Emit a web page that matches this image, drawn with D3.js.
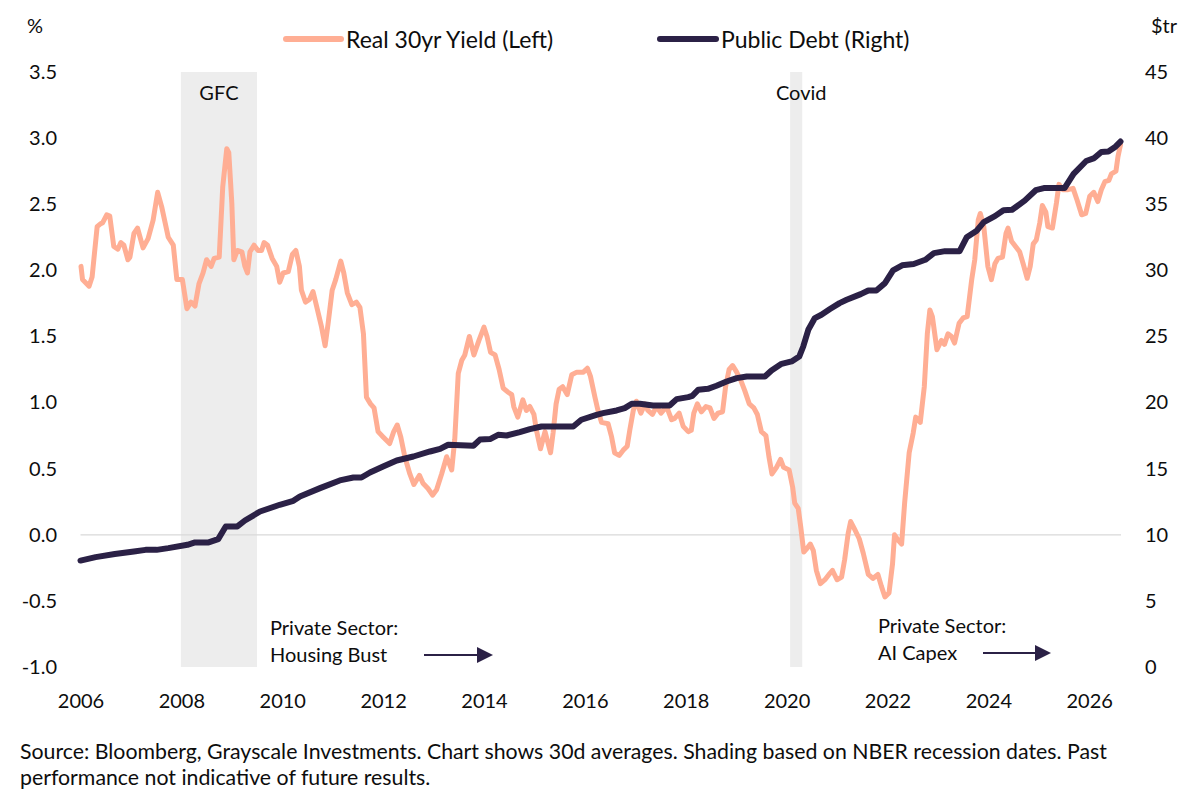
<!DOCTYPE html>
<html>
<head>
<meta charset="utf-8">
<script src="https://cdn.jsdelivr.net/npm/d3@7"></script>
<style>
  html, body { margin: 0; padding: 0; background: #fff; }
  svg { display: block; font-family: Lato, "Open Sans", sans-serif; }
</style>
</head>
<body>
<svg id="chart" width="1200" height="801"></svg>
<script>
// ---------- DATA ----------
// Real 30yr yield (%), [decimal year, value]
const realYield = [
[2006.01,2.03],[2006.04,1.93],[2006.17,1.88],[2006.23,1.95],[2006.33,2.33],[2006.39,2.35],[2006.44,2.36],[2006.52,2.42],[2006.58,2.41],[2006.66,2.18],
[2006.74,2.16],[2006.80,2.21],[2006.86,2.19],[2006.94,2.08],[2006.98,2.10],[2007.06,2.28],[2007.13,2.32],[2007.24,2.17],[2007.34,2.24],[2007.44,2.38],
[2007.53,2.59],[2007.61,2.48],[2007.74,2.25],[2007.84,2.19],[2007.91,1.93],[2008.02,1.93],[2008.11,1.71],[2008.19,1.76],[2008.27,1.73],[2008.35,1.90],
[2008.43,1.98],[2008.50,2.08],[2008.59,2.03],[2008.65,2.09],[2008.75,2.10],[2008.82,2.63],[2008.90,2.92],[2008.94,2.89],[2009.00,2.51],[2009.04,2.08],
[2009.11,2.15],[2009.20,2.14],[2009.26,2.03],[2009.31,1.98],[2009.36,2.14],[2009.44,2.19],[2009.52,2.15],[2009.59,2.15],[2009.64,2.21],[2009.71,2.19],
[2009.80,2.09],[2009.89,2.03],[2009.95,1.91],[2010.02,1.98],[2010.12,1.99],[2010.20,2.12],[2010.27,2.15],[2010.34,2.03],[2010.38,1.85],[2010.46,1.76],
[2010.54,1.78],[2010.61,1.84],[2010.68,1.73],[2010.78,1.57],[2010.85,1.43],[2010.91,1.60],[2010.99,1.85],[2011.06,1.93],[2011.16,2.07],[2011.22,1.98],
[2011.29,1.83],[2011.38,1.74],[2011.47,1.76],[2011.54,1.72],[2011.61,1.52],[2011.67,1.04],[2011.75,0.99],[2011.82,0.96],[2011.90,0.78],[2012.00,0.74],
[2012.13,0.69],[2012.21,0.78],[2012.28,0.83],[2012.35,0.74],[2012.43,0.59],[2012.53,0.46],[2012.61,0.38],[2012.72,0.45],[2012.79,0.39],[2012.89,0.35],
[2012.98,0.30],[2013.06,0.34],[2013.16,0.46],[2013.26,0.59],[2013.36,0.49],[2013.42,0.72],[2013.49,1.22],[2013.56,1.32],[2013.62,1.36],[2013.71,1.50],
[2013.80,1.36],[2013.90,1.47],[2014.00,1.57],[2014.06,1.50],[2014.13,1.38],[2014.22,1.36],[2014.30,1.25],[2014.38,1.11],[2014.47,1.08],[2014.55,1.06],
[2014.59,0.97],[2014.67,0.89],[2014.77,1.02],[2014.84,0.94],[2014.91,0.97],[2014.99,0.91],[2015.04,0.79],[2015.12,0.65],[2015.21,0.78],[2015.32,0.62],
[2015.37,0.77],[2015.43,0.99],[2015.49,1.10],[2015.56,1.12],[2015.65,1.06],[2015.74,1.21],[2015.84,1.23],[2015.97,1.23],[2016.05,1.26],[2016.11,1.20],
[2016.20,1.04],[2016.26,0.94],[2016.33,0.85],[2016.46,0.84],[2016.53,0.74],[2016.59,0.62],[2016.68,0.60],[2016.76,0.64],[2016.84,0.67],[2016.89,0.79],
[2016.96,0.94],[2017.02,1.01],[2017.11,0.92],[2017.19,0.99],[2017.25,0.94],[2017.34,0.91],[2017.42,0.97],[2017.51,0.92],[2017.62,0.97],[2017.72,0.87],
[2017.78,0.88],[2017.87,0.92],[2017.95,0.82],[2018.05,0.78],[2018.11,0.79],[2018.16,0.92],[2018.23,0.99],[2018.31,0.93],[2018.40,0.97],[2018.48,0.96],
[2018.56,0.88],[2018.64,0.92],[2018.73,0.93],[2018.79,1.12],[2018.86,1.25],[2018.93,1.28],[2019.01,1.23],[2019.09,1.17],[2019.17,1.09],[2019.26,0.99],
[2019.35,0.96],[2019.42,0.91],[2019.50,0.78],[2019.59,0.75],[2019.65,0.59],[2019.71,0.46],[2019.80,0.51],[2019.88,0.57],[2019.94,0.51],[2020.05,0.49],
[2020.12,0.36],[2020.16,0.24],[2020.23,0.20],[2020.28,0.06],[2020.34,-0.13],[2020.41,-0.10],[2020.47,-0.07],[2020.53,-0.12],[2020.59,-0.27],[2020.67,-0.37],
[2020.76,-0.34],[2020.84,-0.30],[2020.91,-0.27],[2021.00,-0.34],[2021.09,-0.32],[2021.15,-0.19],[2021.22,0.01],[2021.27,0.10],[2021.35,0.04],[2021.44,-0.03],
[2021.52,-0.14],[2021.62,-0.30],[2021.71,-0.33],[2021.81,-0.30],[2021.88,-0.39],[2021.95,-0.47],[2022.03,-0.44],[2022.10,-0.22],[2022.14,0.00],[2022.21,-0.04],
[2022.28,-0.07],[2022.34,0.24],[2022.43,0.62],[2022.51,0.77],[2022.56,0.89],[2022.65,0.85],[2022.73,1.12],[2022.79,1.52],[2022.84,1.70],[2022.89,1.65],
[2022.98,1.40],[2023.07,1.47],[2023.13,1.44],[2023.20,1.52],[2023.27,1.50],[2023.33,1.45],[2023.42,1.60],[2023.50,1.64],[2023.58,1.65],[2023.67,1.93],
[2023.73,2.08],[2023.80,2.38],[2023.84,2.43],[2023.91,2.33],[2023.99,2.03],[2024.06,1.93],[2024.13,2.05],[2024.19,2.09],[2024.28,2.10],[2024.35,2.28],
[2024.39,2.32],[2024.46,2.22],[2024.54,2.18],[2024.62,2.14],[2024.69,2.05],[2024.77,1.94],[2024.83,2.03],[2024.89,2.20],[2024.95,2.23],[2025.02,2.36],
[2025.07,2.49],[2025.14,2.44],[2025.18,2.33],[2025.27,2.32],[2025.35,2.51],[2025.40,2.65],[2025.48,2.61],[2025.58,2.61],[2025.68,2.62],[2025.76,2.53],
[2025.85,2.42],[2025.93,2.43],[2026.01,2.56],[2026.09,2.59],[2026.17,2.52],[2026.24,2.61],[2026.31,2.67],[2026.39,2.68],[2026.44,2.73],[2026.53,2.75],
[2026.57,2.86],[2026.62,2.95]
];

// Public debt ($tr), [decimal year, value]
const publicDebt = [
[2006.00,8.05],[2006.30,8.31],[2006.68,8.54],[2007.06,8.73],[2007.29,8.86],[2007.51,8.86],[2007.74,8.99],[2008.12,9.24],[2008.27,9.42],[2008.54,9.42],
[2008.73,9.67],[2008.88,10.63],[2009.11,10.63],[2009.26,11.08],[2009.56,11.76],[2009.95,12.27],[2010.22,12.57],[2010.35,12.90],[2010.75,13.53],[2011.14,14.11],
[2011.41,14.33],[2011.57,14.33],[2011.74,14.71],[2012.00,15.16],[2012.27,15.62],[2012.60,15.92],[2012.93,16.30],[2013.13,16.50],[2013.29,16.81],[2013.79,16.73],
[2013.92,17.20],[2014.12,17.24],[2014.28,17.56],[2014.45,17.51],[2014.71,17.77],[2014.91,17.99],[2015.14,18.19],[2015.77,18.19],[2015.93,18.70],[2016.23,19.07],
[2016.36,19.20],[2016.63,19.40],[2016.79,19.58],[2016.93,19.91],[2017.09,19.91],[2017.35,19.78],[2017.68,19.78],[2017.82,20.26],[2018.05,20.41],[2018.13,20.51],
[2018.25,20.97],[2018.44,21.04],[2018.61,21.27],[2018.81,21.59],[2019.01,21.85],[2019.21,21.97],[2019.57,21.97],[2019.70,22.43],[2019.90,22.93],[2020.10,23.11],
[2020.25,23.48],[2020.33,24.24],[2020.43,25.50],[2020.56,26.39],[2020.69,26.64],[2020.86,27.07],[2021.05,27.52],[2021.19,27.77],[2021.47,28.20],[2021.62,28.48],
[2021.78,28.48],[2021.95,29.03],[2022.11,30.00],[2022.29,30.38],[2022.52,30.48],[2022.75,30.80],[2022.92,31.30],[2023.14,31.45],[2023.43,31.45],[2023.57,32.50],
[2023.77,33.00],[2023.91,33.65],[2024.13,34.10],[2024.30,34.55],[2024.47,34.58],[2024.72,35.27],[2024.94,36.06],[2025.10,36.22],[2025.51,36.22],[2025.69,37.30],
[2025.94,38.27],[2026.10,38.49],[2026.24,38.95],[2026.38,38.99],[2026.52,39.35],[2026.62,39.74]
];

// Recessions (NBER), decimal years
const recessions = [
  { label: "GFC",   start: 2007.99, end: 2009.50, labelShift: 0 },
  { label: "Covid", start: 2020.07, end: 2020.31, labelShift: 5 }
];

const yearTicks  = [2006, 2008, 2010, 2012, 2014, 2016, 2018, 2020, 2022, 2024, 2026];
const leftTicks  = [-1.0, -0.5, 0.0, 0.5, 1.0, 1.5, 2.0, 2.5, 3.0, 3.5];
const rightTicks = [0, 5, 10, 15, 20, 25, 30, 35, 40, 45];

const seriesNames = ["Real 30yr Yield (Left)", "Public Debt (Right)"];
const sourceLines = [
  "Source: Bloomberg, Grayscale Investments. Chart shows 30d averages. Shading based on NBER recession dates. Past",
  "performance not indicative of future results."
];

// ---------- STYLE ----------
const YIELD_COLOR = "#FFAE94";
const DEBT_COLOR  = "#2B2146";
const SHADE_COLOR = "#EDEDED";
const TEXT_COLOR  = "#0D0D0D";
const FONT_SIZE   = 20;

const svg = d3.select("#chart");

const x  = d3.scaleLinear().domain([2006, 2026.63]).range([80.5, 1121]);
const yL = d3.scaleLinear().domain([-1, 3.5]).range([667, 72]);
const yR = d3.scaleLinear().domain([0, 45]).range([667, 72]);

// recession shading
const shade = svg.append("g");
recessions.forEach(r => {
  shade.append("rect")
    .attr("x", x(r.start)).attr("width", x(r.end) - x(r.start))
    .attr("y", yL(3.5)).attr("height", yL(-1) - yL(3.5))
    .attr("fill", SHADE_COLOR);
  svg.append("text")
    .attr("x", (x(r.start) + x(r.end)) / 2 + r.labelShift).attr("y", 100)
    .attr("text-anchor", "middle")
    .attr("font-size", FONT_SIZE).attr("fill", TEXT_COLOR)
    .text(r.label);
});

// zero line
svg.append("line")
  .attr("x1", x.range()[0]).attr("x2", x.range()[1])
  .attr("y1", yL(0)).attr("y2", yL(0))
  .attr("stroke", "#D9D9D9").attr("stroke-width", 1.3);

// axes
function styleAxis(g) {
  g.select(".domain").remove();
  g.selectAll("line").remove();
  g.selectAll("text").attr("font-size", FONT_SIZE).attr("fill", TEXT_COLOR)
    .attr("font-family", "Lato, 'Open Sans', sans-serif");
}
svg.append("g").attr("transform", `translate(0,${yL(-1)})`)
  .call(d3.axisBottom(x).tickValues(yearTicks).tickFormat(d3.format("d")).tickSize(0).tickPadding(27))
  .call(styleAxis);
svg.append("g").attr("transform", `translate(${x.range()[0]},0)`)
  .call(d3.axisLeft(yL).tickValues(leftTicks).tickFormat(d3.format(".1f")).tickSize(0).tickPadding(23.5))
  .call(styleAxis)
  .selectAll("text").text(d => d3.format(".1f")(d).replace("−", "-"));
svg.append("g").attr("transform", `translate(${x.range()[1]},0)`)
  .call(d3.axisRight(yR).tickValues(rightTicks).tickFormat(d3.format("d")).tickSize(0).tickPadding(24))
  .call(styleAxis);

// axis unit labels
svg.append("text").attr("x", 27).attr("y", 33).attr("font-size", FONT_SIZE).attr("fill", TEXT_COLOR).text("%");
svg.append("text").attr("x", 1151).attr("y", 33).attr("font-size", FONT_SIZE).attr("fill", TEXT_COLOR).text("$tr");

// lines
const lineL = d3.line().x(d => x(d[0])).y(d => yL(d[1]));
const lineR = d3.line().x(d => x(d[0])).y(d => yR(d[1]));

svg.append("path").datum(realYield)
  .attr("d", lineL).attr("fill", "none")
  .attr("stroke", YIELD_COLOR).attr("stroke-width", 5)
  .attr("stroke-linejoin", "round").attr("stroke-linecap", "round");

svg.append("path").datum(publicDebt)
  .attr("d", lineR).attr("fill", "none")
  .attr("stroke", DEBT_COLOR).attr("stroke-width", 6)
  .attr("stroke-linejoin", "round").attr("stroke-linecap", "round");

// legend
const legend = [
  { name: seriesNames[0], color: YIELD_COLOR, x0: 286, x1: 341, tx: 346 },
  { name: seriesNames[1], color: DEBT_COLOR,  x0: 660, x1: 716, tx: 721 }
];
legend.forEach(l => {
  svg.append("line").attr("x1", l.x0).attr("x2", l.x1).attr("y1", 39).attr("y2", 39)
    .attr("stroke", l.color).attr("stroke-width", 6).attr("stroke-linecap", "round");
  svg.append("text").attr("x", l.tx).attr("y", 47.5).attr("font-size", 23)
    .attr("fill", TEXT_COLOR).text(l.name);
});

// annotations
const notes = [
  { lines: ["Private Sector:", "Housing Bust"], x: 270, y: 635, ax0: 424, ax1: 493, ay: 655 },
  { lines: ["Private Sector:", "AI Capex"],     x: 878, y: 633, ax0: 983, ax1: 1051, ay: 653 }
];
notes.forEach(n => {
  n.lines.forEach((t, i) => {
    svg.append("text").attr("x", n.x).attr("y", n.y + i * 27)
      .attr("font-size", FONT_SIZE).attr("fill", TEXT_COLOR).text(t);
  });
  svg.append("line").attr("x1", n.ax0).attr("x2", n.ax1 - 14).attr("y1", n.ay).attr("y2", n.ay)
    .attr("stroke", DEBT_COLOR).attr("stroke-width", 1.8);
  svg.append("path")
    .attr("d", `M${n.ax1 - 16},${n.ay - 8} L${n.ax1},${n.ay} L${n.ax1 - 16},${n.ay + 8} Z`)
    .attr("fill", DEBT_COLOR);
});

// source
sourceLines.forEach((t, i) => {
  svg.append("text").attr("x", 20).attr("y", 759 + i * 26)
    .attr("font-size", 21.3).attr("fill", TEXT_COLOR).text(t);
});
</script>
</body>
</html>
